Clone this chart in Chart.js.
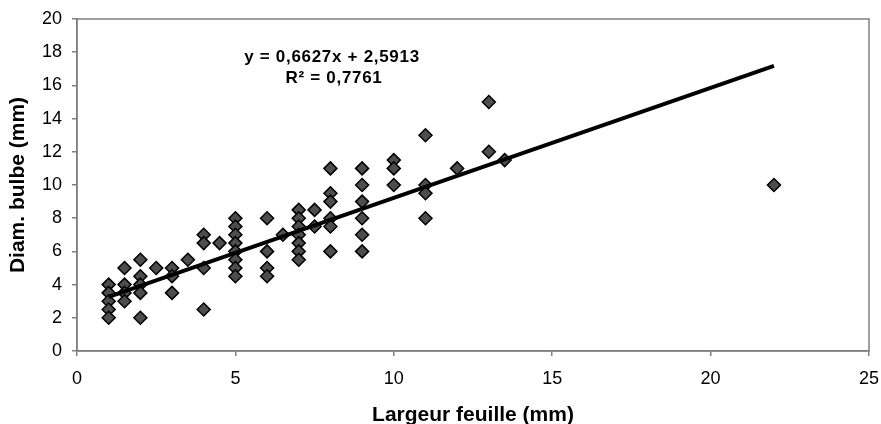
<!DOCTYPE html>
<html>
<head>
<meta charset="utf-8">
<title>Diam. bulbe / Largeur feuille</title>
<script src="https://cdn.jsdelivr.net/npm/chart.js@4/dist/chart.umd.min.js"></script>
<style>
    html, body { margin: 0; padding: 0; background: #fff; }
    #wrap { width: 881px; height: 424px; position: relative; }
</style>
</head>
<body>
<div id="wrap"><canvas id="scatterChart"></canvas></div>
<script>

// =====================================
// DATA
// =====================================

// Largeur feuille (mm) - one value per plant
const leafWidth = [
    1, 1, 1, 1, 1,
    1.5, 1.5, 1.5, 1.5,
    2, 2, 2, 2, 2,
    2.5,
    3, 3, 3,
    3.5,
    4, 4, 4, 4,
    4.5,
    5, 5, 5, 5, 5, 5, 5, 5,
    6, 6, 6, 6,
    6.5,
    7, 7, 7, 7, 7, 7, 7,
    7.5, 7.5,
    8, 8, 8, 8, 8, 8,
    9, 9, 9, 9, 9, 9,
    10, 10, 10,
    11, 11, 11, 11,
    12,
    13, 13,
    13.5,
    22
];

// Diam. bulbe (mm) - same order as leafWidth
const bulbDiam = [
    4, 3.5, 3, 2.5, 2,
    5, 4, 3.5, 3,
    5.5, 4.5, 4, 3.5, 2,
    5,
    5, 4.5, 3.5,
    5.5,
    7, 6.5, 5, 2.5,
    6.5,
    8, 7.5, 7, 6.5, 6, 5.5, 5, 4.5,
    8, 6, 5, 4.5,
    7,
    8.5, 8, 7.5, 7, 6.5, 6, 5.5,
    8.5, 7.5,
    11, 9.5, 9, 8, 7.5, 6,
    11, 10, 9, 8, 7, 6,
    11.5, 11, 10,
    13, 10, 9.5, 8,
    11,
    15, 12,
    11.5,
    10
];

// Linear trend line as printed on the chart
const trendSlope = 0.6627;
const trendIntercept = 2.5913;
const trendLabels = ["y = 0,6627x + 2,5913", "R\u00B2 = 0,7761"];

// Axis ticks
const xTicks = [0, 5, 10, 15, 20, 25];
const yTicks = [0, 2, 4, 6, 8, 10, 12, 14, 16, 18, 20];

// =====================================
// BUILD DATASETS
// =====================================

const points = leafWidth.map((x, i) => ({ x: x, y: bulbDiam[i] }));

const xMin = Math.min(...leafWidth);
const xMax = Math.max(...leafWidth);

const trendPoints = [xMin, xMax].map(x => ({ x: x, y: trendSlope * x + trendIntercept }));

// =====================================
// PLUGINS
// =====================================

const FONT = "'Liberation Sans', Arial, Helvetica, sans-serif";

// gray frame around the plot area
const framePlugin = {
    id: "frame",
    beforeDatasetsDraw(chart) {
        const a = chart.chartArea;
        const ctx = chart.ctx;
        ctx.save();
        ctx.strokeStyle = "#808080";
        ctx.lineWidth = 1.5;
        ctx.strokeRect(a.left, a.top, a.right - a.left, a.bottom - a.top);
        ctx.restore();
    }
};

// equation + R2 text
const equationPlugin = {
    id: "equation",
    afterDatasetsDraw(chart) {
        const ctx = chart.ctx;
        ctx.save();
        ctx.fillStyle = "#000";
        ctx.font = "bold 17px " + FONT;
        ctx.textAlign = "center";
        ctx.textBaseline = "middle";
        if ("letterSpacing" in ctx) ctx.letterSpacing = "0.7px";
        ctx.fillText(trendLabels[0], 332, 57);
        ctx.fillText(trendLabels[1], 334, 78);
        ctx.restore();
    }
};

// =====================================
// CHART
// =====================================

Chart.defaults.color = "#000";
Chart.defaults.font.family = FONT;

new Chart(document.getElementById("scatterChart"), {

    type: "scatter",

    data: {

        datasets: [

            {
                type: "line",
                label: "Tendance",
                data: trendPoints,
                borderColor: "#000",
                borderWidth: 4,
                pointRadius: 0,
                fill: false,
                order: 0
            },

            {
                label: "Diam. bulbe",
                data: points,
                pointStyle: "rectRot",
                pointRadius: 6.5,
                pointBackgroundColor: "#4d4d4d",
                pointBorderColor: "#000",
                pointBorderWidth: 1.5,
                order: 1
            }

        ]

    },

    options: {

        responsive: true,
        maintainAspectRatio: false,
        animation: false,

        layout: {
            padding: { left: 0, top: 19, right: 12, bottom: 0 }
        },

        plugins: {
            legend: { display: false },
            tooltip: { enabled: false }
        },

        scales: {

            x: {
                type: "linear",
                min: 0,
                max: 25,
                afterBuildTicks(scale) {
                    scale.ticks = xTicks.map(v => ({ value: v }));
                },
                afterFit(scale) {
                    scale.height = 73;
                    scale.paddingLeft = 0;
                    scale.paddingRight = 0;
                },
                ticks: {
                    padding: 12,
                    font: { size: 18 }
                },
                grid: {
                    drawOnChartArea: false,
                    color: "#808080",
                    tickLength: 5,
                    lineWidth: 1.5
                },
                border: { color: "#808080", width: 1.5 },
                title: {
                    display: true,
                    text: "Largeur feuille (mm)",
                    font: { size: 21, weight: "bold", lineHeight: 0.8 },
                    padding: 0
                }
            },

            y: {
                type: "linear",
                min: 0,
                max: 20,
                afterBuildTicks(scale) {
                    scale.ticks = yTicks.map(v => ({ value: v }));
                },
                afterFit(scale) {
                    scale.width = 77;
                    scale.paddingTop = 0;
                    scale.paddingBottom = 0;
                },
                ticks: {
                    padding: 10,
                    font: { size: 18 }
                },
                grid: {
                    drawOnChartArea: false,
                    color: "#808080",
                    tickLength: 5,
                    lineWidth: 1.5
                },
                border: { color: "#808080", width: 1.5 },
                title: {
                    display: true,
                    text: "Diam. bulbe (mm)",
                    font: { size: 21, weight: "bold" },
                    padding: { top: 6, bottom: 0 }
                }
            }

        }

    },

    plugins: [framePlugin, equationPlugin]

});

</script>
</body>
</html>
